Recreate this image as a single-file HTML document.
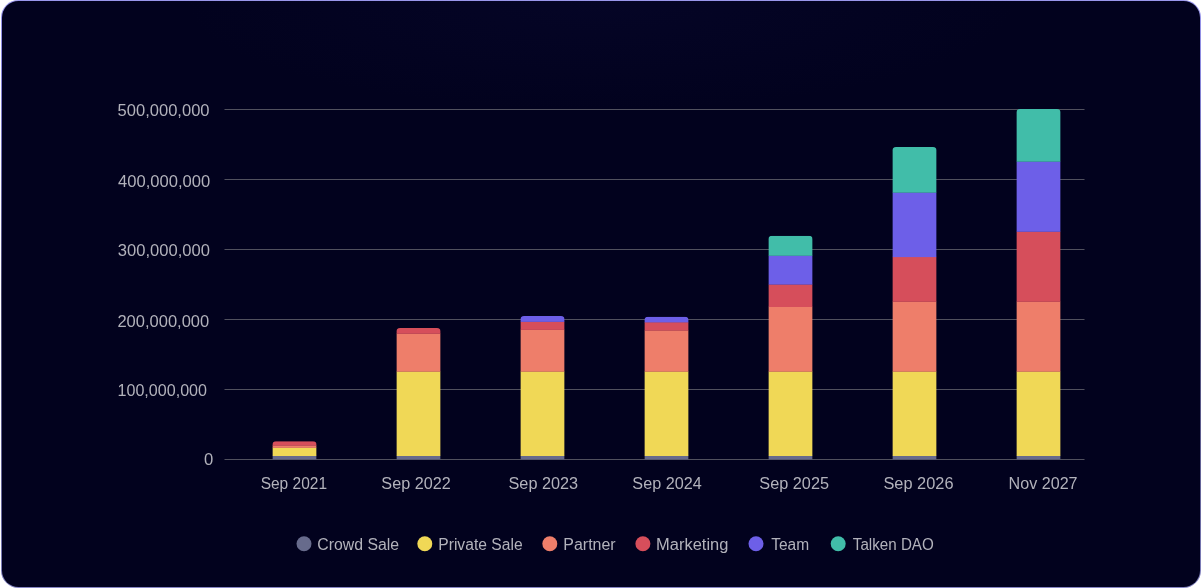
<!DOCTYPE html>
<html lang="en"><head><meta charset="utf-8"><title>Token release schedule</title>
<style>
html,body{margin:0;padding:0;background:#fff;}
body{width:1201px;height:588px;overflow:hidden;position:relative;font-family:"Liberation Sans",sans-serif;}
.card{position:absolute;left:1px;top:0;width:1200px;height:588px;border-radius:17.5px;
 background:linear-gradient(180deg,#9a97ec 0%,#8a88dc 12%,#4a4870 50%,#6a6aa0 88%,#8585c2 100%);}
.inner{position:absolute;left:1px;top:1px;right:1px;bottom:1px;border-radius:16.5px;
 background:radial-gradient(ellipse 420px 110px at 50% 0%,rgba(30,30,110,0.10),rgba(3,2,30,0) 100%),#02021e;}
svg{position:absolute;left:0;top:0;}
text{font-family:"Liberation Sans",sans-serif;font-size:15.6px;fill:#b2b2bb;}
</style></head><body>
<div class="card"><div class="inner"></div></div>
<svg width="1201" height="588" viewBox="0 0 1201 588">

<rect x="224.5" y="109.0" width="860" height="1" fill="#51515e"/>
<rect x="224.5" y="179.0" width="860" height="1" fill="#51515e"/>
<rect x="224.5" y="249.0" width="860" height="1" fill="#51515e"/>
<rect x="224.5" y="319.0" width="860" height="1" fill="#51515e"/>
<rect x="224.5" y="389.0" width="860" height="1" fill="#51515e"/>
<rect x="224.5" y="459.0" width="860" height="1" fill="#51515e"/>
<clipPath id="c0"><path d="M272.4 459.5 V444.8 Q272.4 441.2 276.0 441.2 H312.99999999999994 Q316.59999999999997 441.2 316.59999999999997 444.8 V459.5 Z"/></clipPath>
<g clip-path="url(#c0)">
<rect x="272.4" y="455.7" width="44.2" height="4.10" fill="#676b8c"/>
<rect x="272.4" y="447.6" width="44.2" height="8.40" fill="#f0d856"/>
<rect x="272.4" y="445.3" width="44.2" height="2.60" fill="#ee7e6a"/>
<rect x="272.4" y="441.2" width="44.2" height="4.40" fill="#d64e5b"/>
</g>
<clipPath id="c1"><path d="M396.4 459.5 V331.6 Q396.4 328.0 400.0 328.0 H436.99999999999994 Q440.59999999999997 328.0 440.59999999999997 331.6 V459.5 Z"/></clipPath>
<g clip-path="url(#c1)">
<rect x="396.4" y="455.7" width="44.2" height="4.10" fill="#676b8c"/>
<rect x="396.4" y="371.4" width="44.2" height="84.60" fill="#f0d856"/>
<rect x="396.4" y="333.5" width="44.2" height="38.20" fill="#ee7e6a"/>
<rect x="396.4" y="328.0" width="44.2" height="5.80" fill="#d64e5b"/>
</g>
<clipPath id="c2"><path d="M520.4 459.5 V319.6 Q520.4 316.0 524.0 316.0 H561.0 Q564.6 316.0 564.6 319.6 V459.5 Z"/></clipPath>
<g clip-path="url(#c2)">
<rect x="520.4" y="455.7" width="44.2" height="4.10" fill="#676b8c"/>
<rect x="520.4" y="371.4" width="44.2" height="84.60" fill="#f0d856"/>
<rect x="520.4" y="329.6" width="44.2" height="42.10" fill="#ee7e6a"/>
<rect x="520.4" y="321.6" width="44.2" height="8.30" fill="#d64e5b"/>
<rect x="520.4" y="316.0" width="44.2" height="5.90" fill="#6d5fe8"/>
</g>
<clipPath id="c3"><path d="M644.4 459.5 V320.3 Q644.4 316.7 648.0 316.7 H685.0 Q688.6 316.7 688.6 320.3 V459.5 Z"/></clipPath>
<g clip-path="url(#c3)">
<rect x="644.4" y="455.7" width="44.2" height="4.10" fill="#676b8c"/>
<rect x="644.4" y="371.4" width="44.2" height="84.60" fill="#f0d856"/>
<rect x="644.4" y="330.3" width="44.2" height="41.40" fill="#ee7e6a"/>
<rect x="644.4" y="322.1" width="44.2" height="8.50" fill="#d64e5b"/>
<rect x="644.4" y="316.7" width="44.2" height="5.70" fill="#6d5fe8"/>
</g>
<clipPath id="c4"><path d="M768.4 459.5 V239.4 Q768.4 235.8 772.0 235.8 H809.0 Q812.6 235.8 812.6 239.4 V459.5 Z"/></clipPath>
<g clip-path="url(#c4)">
<rect x="768.4" y="455.7" width="44.2" height="4.10" fill="#676b8c"/>
<rect x="768.4" y="371.4" width="44.2" height="84.60" fill="#f0d856"/>
<rect x="768.4" y="306.7" width="44.2" height="65.00" fill="#ee7e6a"/>
<rect x="768.4" y="284.3" width="44.2" height="22.70" fill="#d64e5b"/>
<rect x="768.4" y="255.5" width="44.2" height="29.10" fill="#6d5fe8"/>
<rect x="768.4" y="235.8" width="44.2" height="20.00" fill="#41bda9"/>
</g>
<clipPath id="c5"><path d="M892.4 459.5 V150.6 Q892.4 147.0 896.0 147.0 H933.0 Q936.6 147.0 936.6 150.6 V459.5 Z"/></clipPath>
<g clip-path="url(#c5)">
<rect x="892.4" y="455.7" width="44.2" height="4.10" fill="#676b8c"/>
<rect x="892.4" y="371.4" width="44.2" height="84.60" fill="#f0d856"/>
<rect x="892.4" y="301.5" width="44.2" height="70.20" fill="#ee7e6a"/>
<rect x="892.4" y="256.8" width="44.2" height="45.00" fill="#d64e5b"/>
<rect x="892.4" y="192.4" width="44.2" height="64.70" fill="#6d5fe8"/>
<rect x="892.4" y="147.0" width="44.2" height="45.70" fill="#41bda9"/>
</g>
<clipPath id="c6"><path d="M1016.4 459.5 V112.5 Q1016.4 108.9 1020.0 108.9 H1057.0 Q1060.6 108.9 1060.6 112.5 V459.5 Z"/></clipPath>
<g clip-path="url(#c6)">
<rect x="1016.4" y="455.7" width="44.2" height="4.10" fill="#676b8c"/>
<rect x="1016.4" y="371.4" width="44.2" height="84.60" fill="#f0d856"/>
<rect x="1016.4" y="301.5" width="44.2" height="70.20" fill="#ee7e6a"/>
<rect x="1016.4" y="231.5" width="44.2" height="70.30" fill="#d64e5b"/>
<rect x="1016.4" y="161.4" width="44.2" height="70.40" fill="#6d5fe8"/>
<rect x="1016.4" y="108.9" width="44.2" height="52.80" fill="#41bda9"/>
</g>
<circle cx="304" cy="543.8" r="7.5" fill="#676b8c"/>
<circle cx="424.8" cy="543.8" r="7.5" fill="#f0d856"/>
<circle cx="549.8" cy="543.8" r="7.5" fill="#ee7e6a"/>
<circle cx="642.9" cy="543.8" r="7.5" fill="#d64e5b"/>
<circle cx="756" cy="543.8" r="7.5" fill="#6d5fe8"/>
<circle cx="838.2" cy="543.8" r="7.5" fill="#41bda9"/>
<text id="y5" x="117.58" y="116" textLength="91.99" lengthAdjust="spacingAndGlyphs">500,000,000</text>
<text id="y4" x="117.98" y="187" textLength="92.25" lengthAdjust="spacingAndGlyphs">400,000,000</text>
<text id="y3" x="117.78" y="256" textLength="92.10" lengthAdjust="spacingAndGlyphs">300,000,000</text>
<text id="y2" x="117.42" y="327" textLength="91.82" lengthAdjust="spacingAndGlyphs">200,000,000</text>
<text id="y1" x="117.50" y="396" textLength="89.53" lengthAdjust="spacingAndGlyphs">100,000,000</text>
<text id="y0" x="204.02" y="465" textLength="9.27" lengthAdjust="spacingAndGlyphs">0</text>
<text id="x0" x="260.64" y="489" textLength="66.48" lengthAdjust="spacingAndGlyphs">Sep 2021</text>
<text id="x1" x="381.39" y="489" textLength="69.33" lengthAdjust="spacingAndGlyphs">Sep 2022</text>
<text id="x2" x="508.50" y="489" textLength="69.66" lengthAdjust="spacingAndGlyphs">Sep 2023</text>
<text id="x3" x="632.38" y="489" textLength="69.38" lengthAdjust="spacingAndGlyphs">Sep 2024</text>
<text id="x4" x="759.37" y="489" textLength="69.66" lengthAdjust="spacingAndGlyphs">Sep 2025</text>
<text id="x5" x="883.47" y="489" textLength="70.02" lengthAdjust="spacingAndGlyphs">Sep 2026</text>
<text id="x6" x="1008.58" y="489" textLength="69.01" lengthAdjust="spacingAndGlyphs">Nov 2027</text>
<text id="l0" x="317.27" y="550" textLength="81.92" lengthAdjust="spacingAndGlyphs">Crowd Sale</text>
<text id="l1" x="438.24" y="550" textLength="84.36" lengthAdjust="spacingAndGlyphs">Private Sale</text>
<text id="l2" x="563.33" y="550" textLength="52.36" lengthAdjust="spacingAndGlyphs">Partner</text>
<text id="l3" x="656.11" y="550" textLength="72.32" lengthAdjust="spacingAndGlyphs">Marketing</text>
<text id="l4" x="771.17" y="550" textLength="37.96" lengthAdjust="spacingAndGlyphs">Team</text>
<text id="l5" x="852.79" y="550" textLength="81.04" lengthAdjust="spacingAndGlyphs">Talken DAO</text>
</svg></body></html>
